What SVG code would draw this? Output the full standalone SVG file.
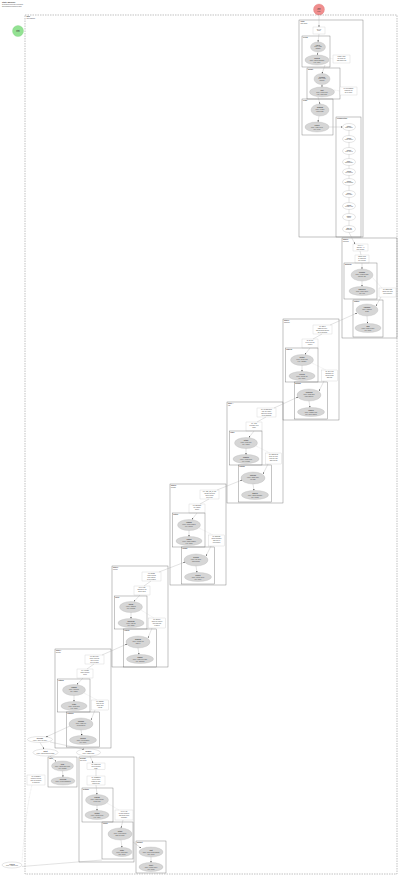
<svg xmlns="http://www.w3.org/2000/svg" width="400" height="877" viewBox="0 0 400 877">
<defs>
<style>
.t{font-family:"Liberation Sans",Arial,sans-serif;font-size:1.5px;fill:#444}
.b{font-weight:bold}
.m{text-anchor:middle}
.cb{fill:none;stroke:#6a6a6a;stroke-width:0.4}
.sb{fill:none;stroke:#666;stroke-width:0.38}
.ob{fill:none;stroke:#777;stroke-width:0.45;stroke-dasharray:1.5 1}
.n{fill:#fff;stroke:#c4c4c4;stroke-width:0.3}
.e{fill:#d6d6d6;stroke:#b0b0b0;stroke-width:0.3}
.w{fill:#fff;stroke:#aaa;stroke-width:0.3}
.c{fill:none;stroke:#a0a0a0;stroke-width:0.3}
.d{fill:none;stroke:#c0c0c0;stroke-width:0.3;stroke-dasharray:0.8 0.6}
</style>
<marker id="ah" viewBox="0 0 4 4" refX="4" refY="2" markerWidth="1.6" markerHeight="1.6" markerUnits="userSpaceOnUse" orient="auto"><path d="M0,0L4,2L0,4z" fill="#444"/></marker>
</defs>
<rect width="400" height="877" fill="#fff"/>

<g id="title">
<text class="t b" x="2" y="3" style="font-size:2px">State Machine</text>
<text class="t" x="2" y="5.2">generated overview of all states</text>
<text class="t" x="2" y="7">and transitions between them</text>
</g>

<g id="start"><circle cx="18" cy="31" r="5.5" fill="#93e293" stroke="#7c7" stroke-width="0.3"/><text class="t m b" x="18" y="30.5">start</text><text class="t m" x="18" y="32.3">initial</text></g>
<g id="final"><circle cx="319" cy="9.5" r="5.5" fill="#f08e8e" stroke="#d77" stroke-width="0.3"/><text class="t m b" x="319" y="8.5">final</text><text class="t m" x="319" y="10.3">done</text><text class="t m" x="319" y="12">state</text></g>

<g id="outer">
<rect class="ob" x="25" y="15" width="372" height="859"/>
<text class="t b" x="26.5" y="17">main</text>
<text class="t" x="26.5" y="18.8">root machine</text>
</g>

<!-- C1 -->
<g id="c1">
<rect class="cb" x="299" y="20" width="64" height="217"/>
<text class="t b" x="300.5" y="22">finish</text><text class="t" x="300.5" y="23.7">final stage</text>
<g id="c1-n0"><rect class="n" x="313" y="27" width="12" height="7"/><text class="t m" x="319" y="29.5">on exit</text><text class="t m" x="319" y="31.3">done</text></g>
<g id="c1-b1"><rect class="sb" x="302" y="36" width="28" height="31"/><text class="t b" x="303" y="37.8">review</text>
<g id="c1-b1e1"><ellipse class="e" cx="318" cy="47" rx="7.5" ry="5"/><text class="t m b" x="318" y="45.5">check</text><text class="t m" x="318" y="47.3">entry / load</text><text class="t m" x="318" y="49.1">validate</text></g>
<g id="c1-b1e2"><ellipse class="e" cx="317" cy="60" rx="12" ry="5"/><text class="t m b" x="317" y="59">confirm</text><text class="t m" x="317" y="60.8">entry / show summary</text><text class="t m" x="317" y="62.6">exit / save</text></g>
</g>
<g id="c1-nb"><rect class="n" x="333" y="55" width="17" height="8"/><text class="t m" x="341.5" y="57.3">guard: valid</text><text class="t m" x="341.5" y="59.1">all fields set</text><text class="t m" x="341.5" y="60.9">and approved</text></g>
<g id="c1-b2"><rect class="sb" x="307" y="68" width="33" height="31"/><text class="t b" x="308" y="69.8">submit</text>
<g id="c1-b2e1"><ellipse class="e" cx="322" cy="79" rx="8" ry="5.5"/><text class="t m b" x="322" y="77.5">sending</text><text class="t m" x="322" y="79.3">entry / post</text><text class="t m" x="322" y="81.1">request</text></g>
<g id="c1-b2e2"><ellipse class="e" cx="322" cy="92" rx="12.5" ry="5"/><text class="t m b" x="322" y="91">sent</text><text class="t m" x="322" y="92.8">entry / notify user</text><text class="t m" x="322" y="94.6">exit / clear form</text></g>
</g>
<g id="c1-nc"><rect class="n" x="340" y="87" width="17" height="8"/><text class="t m" x="348.5" y="89.3">on: SUCCESS</text><text class="t m" x="348.5" y="91.1">response ok</text><text class="t m" x="348.5" y="92.9">go to result</text></g>
<g id="c1-b3"><rect class="sb" x="302" y="99" width="31" height="36"/><text class="t b" x="303" y="100.8">result</text>
<g id="c1-b3e1"><ellipse class="e" cx="320" cy="110" rx="9" ry="6"/><text class="t m b" x="320" y="108.2">showing</text><text class="t m" x="320" y="110">entry / render</text><text class="t m" x="320" y="111.8">result page</text></g>
<g id="c1-b3e2"><ellipse class="e" cx="317" cy="127" rx="12" ry="5"/><text class="t m b" x="317" y="126">closed</text><text class="t m" x="317" y="127.8">entry / track event</text><text class="t m" x="317" y="129.6">exit / reset</text></g>
</g>
<g id="c1-b4"><rect class="sb" x="336" y="117" width="25" height="120"/><text class="t b" x="337" y="118.8">cleanup steps</text>
<g id="c1-s1"><ellipse class="w" cx="349" cy="127" rx="6.5" ry="3.5"/><text class="t m b" x="349" y="126.5">step 1</text><text class="t m" x="349" y="128.3">flush cache</text></g>
<g id="c1-s2"><ellipse class="w" cx="349" cy="139" rx="6.5" ry="3.5"/><text class="t m b" x="349" y="138.5">step 2</text><text class="t m" x="349" y="140.3">close socket</text></g>
<g id="c1-s3"><ellipse class="w" cx="349" cy="151" rx="6.5" ry="3.5"/><text class="t m b" x="349" y="150.5">step 3</text><text class="t m" x="349" y="152.3">stop timers</text></g>
<g id="c1-s4"><ellipse class="w" cx="349" cy="162" rx="6.5" ry="3.5"/><text class="t m b" x="349" y="161.5">step 4</text><text class="t m" x="349" y="163.3">unsubscribe</text></g>
<g id="c1-s5"><ellipse class="w" cx="349" cy="172" rx="6.5" ry="3.5"/><text class="t m b" x="349" y="171.5">step 5</text><text class="t m" x="349" y="173.3">free buffers</text></g>
<g id="c1-s6"><ellipse class="w" cx="349" cy="182" rx="6.5" ry="3.5"/><text class="t m b" x="349" y="181.5">step 6</text><text class="t m" x="349" y="183.3">log summary</text></g>
<g id="c1-s7"><ellipse class="w" cx="349" cy="194" rx="6.5" ry="3.5"/><text class="t m b" x="349" y="193.5">step 7</text><text class="t m" x="349" y="195.3">save state</text></g>
<g id="c1-s8"><ellipse class="w" cx="349" cy="206" rx="6.5" ry="3.5"/><text class="t m b" x="349" y="205.5">step 8</text><text class="t m" x="349" y="207.3">release lock</text></g>
<g id="c1-s9"><ellipse class="w" cx="349" cy="217" rx="6.5" ry="3.5"/><text class="t m b" x="349" y="216.5">step 9</text><text class="t m" x="349" y="218.3">report</text></g>
<g id="c1-s10"><ellipse class="w" cx="349" cy="229" rx="6.5" ry="3.5"/><text class="t m b" x="349" y="228.5">step 10</text><text class="t m" x="349" y="230.3">shutdown</text></g>
</g>
</g>

<!-- C2 -->
<g id="c2" transform="translate(342,238)">
<rect class="cb" x="0" y="0" width="55" height="100"/>
<text class="t b" x="1" y="2">stage 2</text><text class="t" x="1" y="3.7">payment</text>
<g id="c2-n1"><rect class="n" x="11" y="6" width="15" height="7"/><text class="t m" x="18.5" y="8.3">on: PAY</text><text class="t m" x="18.5" y="10.1">amount &gt; 0</text><text class="t m" x="18.5" y="11.9">then charge</text></g>
<g id="c2-n2"><rect class="n" x="13" y="17" width="14" height="8"/><text class="t m" x="20" y="19.3">guard: card</text><text class="t m" x="20" y="21.1">is valid and</text><text class="t m" x="20" y="22.9">not expired</text></g>
<g id="c2-s1"><rect class="sb" x="2" y="25" width="33" height="36"/><text class="t b" x="3" y="26.8">authorize</text>
<g id="c2-e1"><ellipse class="e" cx="20" cy="37" rx="11" ry="6"/><text class="t m b" x="20" y="35.2">pending</text><text class="t m" x="20" y="37">entry / request auth</text><text class="t m" x="20" y="38.8">timeout 30s</text></g>
<g id="c2-e2"><ellipse class="e" cx="20" cy="53" rx="13" ry="4.5"/><text class="t m b" x="20" y="52">approved</text><text class="t m" x="20" y="53.8">entry / store token</text><text class="t m" x="20" y="55.6">exit / log</text></g>
</g>
<g id="c2-n3"><rect class="n" x="37" y="50" width="17" height="9"/><text class="t m" x="45.5" y="52.3">on: DECLINE</text><text class="t m" x="45.5" y="54.1">show error and</text><text class="t m" x="45.5" y="55.9">retry payment</text></g>
<g id="c2-s2"><rect class="sb" x="11" y="62" width="30" height="37"/><text class="t b" x="12" y="63.8">capture</text>
<g id="c2-e3"><ellipse class="e" cx="25" cy="72" rx="11" ry="6"/><text class="t m b" x="25" y="70.2">charging</text><text class="t m" x="25" y="72">entry / capture</text><text class="t m" x="25" y="73.8">funds</text></g>
<g id="c2-e4"><ellipse class="e" cx="26" cy="90" rx="13" ry="4.5"/><text class="t m b" x="26" y="89">paid</text><text class="t m" x="26" y="90.8">entry / send receipt</text><text class="t m" x="26" y="92.6">exit / done</text></g>
</g>
</g>

<g id="c3" transform="translate(283,319)">
<rect class="cb" x="0" y="0" width="56" height="101"/>
<text class="t b" x="1" y="2">stage 3</text><text class="t" x="1" y="3.7">shipping</text>
<g id="c3-n1"><rect class="n" x="30" y="6" width="19" height="9"/><text class="t m" x="39.5" y="8.3">on: NEXT</text><text class="t m" x="39.5" y="10.1">address is set</text><text class="t m" x="39.5" y="11.9">and method chosen</text><text class="t m" x="39.5" y="13.7">go to payment</text></g>
<g id="c3-n2"><rect class="n" x="19" y="20" width="16" height="9"/><text class="t m" x="27" y="22.3">on: BACK</text><text class="t m" x="27" y="24.1">keep entered</text><text class="t m" x="27" y="25.9">values</text></g>
<g id="c3-s1"><rect class="sb" x="2.5" y="29" width="32.5" height="34"/><text class="t b" x="3.3" y="30.8">address</text>
<g id="c3-e1"><ellipse class="e" cx="19" cy="41" rx="11.5" ry="5.5"/><text class="t m b" x="19" y="39.2">editing</text><text class="t m" x="19" y="41">entry / focus field</text><text class="t m" x="19" y="42.8">exit / validate</text></g>
<g id="c3-e2"><ellipse class="e" cx="19" cy="57" rx="13" ry="4.5"/><text class="t m b" x="19" y="56">verified</text><text class="t m" x="19" y="57.8">entry / lookup zip</text><text class="t m" x="19" y="59.6">exit / store</text></g>
</g>
<g id="c3-n3"><rect class="n" x="38.5" y="51" width="16" height="11"/><text class="t m" x="46.5" y="53.3">on: INVALID</text><text class="t m" x="46.5" y="55.1">highlight the</text><text class="t m" x="46.5" y="56.9">wrong fields</text><text class="t m" x="46.5" y="58.7">and stay</text></g>
<g id="c3-s2"><rect class="sb" x="11.5" y="63" width="33" height="37"/><text class="t b" x="12.3" y="64.8">method</text>
<g id="c3-e3"><ellipse class="e" cx="26" cy="76" rx="12" ry="6"/><text class="t m b" x="26" y="74.2">choosing</text><text class="t m" x="26" y="76">entry / load rates</text><text class="t m" x="26" y="77.8">from carriers</text></g>
<g id="c3-e4"><ellipse class="e" cx="28" cy="93" rx="13.5" ry="4.5"/><text class="t m b" x="28" y="92">chosen</text><text class="t m" x="28" y="93.8">entry / update total</text><text class="t m" x="28" y="95.6">exit / save choice</text></g>
</g>
</g>

<g id="c4" transform="translate(227,402)">
<rect class="cb" x="0" y="0" width="56" height="101"/>
<text class="t b" x="1" y="2">stage 4</text><text class="t" x="1" y="3.7">cart</text>
<g id="c4-n1"><rect class="n" x="30" y="6" width="19" height="9"/><text class="t m" x="39.5" y="8.3">on: CHECKOUT</text><text class="t m" x="39.5" y="10.1">cart not empty</text><text class="t m" x="39.5" y="11.9">and user known</text><text class="t m" x="39.5" y="13.7">go to shipping</text></g>
<g id="c4-n2"><rect class="n" x="19" y="20" width="16" height="9"/><text class="t m" x="27" y="22.3">on: ADD</text><text class="t m" x="27" y="24.1">increase item</text><text class="t m" x="27" y="25.9">count</text></g>
<g id="c4-s1"><rect class="sb" x="2.5" y="29" width="32.5" height="34"/><text class="t b" x="3.3" y="30.8">items</text>
<g id="c4-e1"><ellipse class="e" cx="19" cy="41" rx="11.5" ry="5.5"/><text class="t m b" x="19" y="39.2">listing</text><text class="t m" x="19" y="41">entry / fetch cart</text><text class="t m" x="19" y="42.8">exit / cache</text></g>
<g id="c4-e2"><ellipse class="e" cx="19" cy="57" rx="13" ry="4.5"/><text class="t m b" x="19" y="56">updated</text><text class="t m" x="19" y="57.8">entry / recalc sum</text><text class="t m" x="19" y="59.6">exit / persist</text></g>
</g>
<g id="c4-n3"><rect class="n" x="38.5" y="51" width="16" height="11"/><text class="t m" x="46.5" y="53.3">on: REMOVE</text><text class="t m" x="46.5" y="55.1">drop the item</text><text class="t m" x="46.5" y="56.9">from the cart</text><text class="t m" x="46.5" y="58.7">and refresh</text></g>
<g id="c4-s2"><rect class="sb" x="11.5" y="63" width="33" height="37"/><text class="t b" x="12.3" y="64.8">coupon</text>
<g id="c4-e3"><ellipse class="e" cx="26" cy="76" rx="12" ry="6"/><text class="t m b" x="26" y="74.2">entering</text><text class="t m" x="26" y="76">entry / show input</text><text class="t m" x="26" y="77.8">for code</text></g>
<g id="c4-e4"><ellipse class="e" cx="28" cy="93" rx="13.5" ry="4.5"/><text class="t m b" x="28" y="92">applied</text><text class="t m" x="28" y="93.8">entry / apply discount</text><text class="t m" x="28" y="95.6">exit / recalc</text></g>
</g>
</g>

<g id="c5" transform="translate(170,484)">
<rect class="cb" x="0" y="0" width="56" height="101"/>
<text class="t b" x="1" y="2">stage 5</text><text class="t" x="1" y="3.7">product</text>
<g id="c5-n1"><rect class="n" x="30" y="6" width="19" height="9"/><text class="t m" x="39.5" y="8.3">on: ADD_TO_CART</text><text class="t m" x="39.5" y="10.1">variant selected</text><text class="t m" x="39.5" y="11.9">and in stock</text><text class="t m" x="39.5" y="13.7">go to cart</text></g>
<g id="c5-n2"><rect class="n" x="19" y="20" width="16" height="9"/><text class="t m" x="27" y="22.3">on: SELECT</text><text class="t m" x="27" y="24.1">set variant</text><text class="t m" x="27" y="25.9">option</text></g>
<g id="c5-s1"><rect class="sb" x="2.5" y="29" width="32.5" height="34"/><text class="t b" x="3.3" y="30.8">details</text>
<g id="c5-e1"><ellipse class="e" cx="19" cy="41" rx="11.5" ry="5.5"/><text class="t m b" x="19" y="39.2">loading</text><text class="t m" x="19" y="41">entry / fetch product</text><text class="t m" x="19" y="42.8">exit / cancel</text></g>
<g id="c5-e2"><ellipse class="e" cx="19" cy="57" rx="13" ry="4.5"/><text class="t m b" x="19" y="56">loaded</text><text class="t m" x="19" y="57.8">entry / show images</text><text class="t m" x="19" y="59.6">exit / track</text></g>
</g>
<g id="c5-n3"><rect class="n" x="38.5" y="51" width="16" height="11"/><text class="t m" x="46.5" y="53.3">on: ERROR</text><text class="t m" x="46.5" y="55.1">show message</text><text class="t m" x="46.5" y="56.9">and offer a</text><text class="t m" x="46.5" y="58.7">retry button</text></g>
<g id="c5-s2"><rect class="sb" x="11.5" y="63" width="33" height="37"/><text class="t b" x="12.3" y="64.8">variant</text>
<g id="c5-e3"><ellipse class="e" cx="26" cy="76" rx="12" ry="6"/><text class="t m b" x="26" y="74.2">picking</text><text class="t m" x="26" y="76">entry / list sizes</text><text class="t m" x="26" y="77.8">and colours</text></g>
<g id="c5-e4"><ellipse class="e" cx="28" cy="93" rx="13.5" ry="4.5"/><text class="t m b" x="28" y="92">picked</text><text class="t m" x="28" y="93.8">entry / check stock</text><text class="t m" x="28" y="95.6">exit / store</text></g>
</g>
</g>

<g id="c6" transform="translate(112,566)">
<rect class="cb" x="0" y="0" width="56" height="101"/>
<text class="t b" x="1" y="2">stage 6</text><text class="t" x="1" y="3.7">search</text>
<g id="c6-n1"><rect class="n" x="30" y="6" width="19" height="9"/><text class="t m" x="39.5" y="8.3">on: OPEN</text><text class="t m" x="39.5" y="10.1">result clicked</text><text class="t m" x="39.5" y="11.9">with valid id</text><text class="t m" x="39.5" y="13.7">go to product</text></g>
<g id="c6-n2"><rect class="n" x="22" y="20" width="16" height="9"/><text class="t m" x="30" y="22.3">on: TYPE</text><text class="t m" x="30" y="24.1">debounce the</text><text class="t m" x="30" y="25.9">query input</text></g>
<g id="c6-s1"><rect class="sb" x="2.5" y="30" width="32.5" height="33"/><text class="t b" x="3.3" y="31.8">query</text>
<g id="c6-e1"><ellipse class="e" cx="19" cy="41" rx="11.5" ry="5.5"/><text class="t m b" x="19" y="39.2">typing</text><text class="t m" x="19" y="41">entry / suggest</text><text class="t m" x="19" y="42.8">exit / commit</text></g>
<g id="c6-e2"><ellipse class="e" cx="19" cy="57" rx="13" ry="4.5"/><text class="t m b" x="19" y="56">searching</text><text class="t m" x="19" y="57.8">entry / call api</text><text class="t m" x="19" y="59.6">exit / abort</text></g>
</g>
<g id="c6-n3"><rect class="n" x="36.5" y="52" width="17" height="10"/><text class="t m" x="45" y="54.3">on: EMPTY</text><text class="t m" x="45" y="56.1">show no results</text><text class="t m" x="45" y="57.9">hint and stay</text><text class="t m" x="45" y="59.7">in query</text></g>
<g id="c6-s2"><rect class="sb" x="11.5" y="63" width="33" height="38"/><text class="t b" x="12.3" y="64.8">results</text>
<g id="c6-e3"><ellipse class="e" cx="26" cy="76" rx="12" ry="6"/><text class="t m b" x="26" y="74.2">showing</text><text class="t m" x="26" y="76">entry / render list</text><text class="t m" x="26" y="77.8">page 1</text></g>
<g id="c6-e4"><ellipse class="e" cx="28" cy="93" rx="13.5" ry="4.5"/><text class="t m b" x="28" y="92">paging</text><text class="t m" x="28" y="93.8">entry / load next page</text><text class="t m" x="28" y="95.6">exit / append</text></g>
</g>
</g>

<g id="c7" transform="translate(55,649)">
<rect class="cb" x="0" y="0" width="56" height="99"/>
<text class="t b" x="1" y="2">stage 7</text><text class="t" x="1" y="3.7">browse</text>
<g id="c7-n1"><rect class="n" x="30" y="6" width="19" height="9"/><text class="t m" x="39.5" y="8.3">on: SEARCH</text><text class="t m" x="39.5" y="10.1">query entered</text><text class="t m" x="39.5" y="11.9">min 3 letters</text><text class="t m" x="39.5" y="13.7">go to search</text></g>
<g id="c7-n2"><rect class="n" x="22" y="20" width="16" height="9"/><text class="t m" x="30" y="22.3">on: FILTER</text><text class="t m" x="30" y="24.1">apply chosen</text><text class="t m" x="30" y="25.9">filters</text></g>
<g id="c7-s1"><rect class="sb" x="2.5" y="30" width="32.5" height="33"/><text class="t b" x="3.3" y="31.8">catalog</text>
<g id="c7-e1"><ellipse class="e" cx="19" cy="41" rx="11.5" ry="5.5"/><text class="t m b" x="19" y="39.2">loading</text><text class="t m" x="19" y="41">entry / fetch list</text><text class="t m" x="19" y="42.8">exit / cache</text></g>
<g id="c7-e2"><ellipse class="e" cx="19" cy="57" rx="13" ry="4.5"/><text class="t m b" x="19" y="56">ready</text><text class="t m" x="19" y="57.8">entry / show grid</text><text class="t m" x="19" y="59.6">exit / track</text></g>
</g>
<g id="c7-n3"><rect class="n" x="36.5" y="51" width="17" height="10"/><text class="t m" x="45" y="53.3">on: RESET</text><text class="t m" x="45" y="55.1">clear all the</text><text class="t m" x="45" y="56.9">filters and</text><text class="t m" x="45" y="58.7">reload</text></g>
<g id="c7-s2"><rect class="sb" x="11.5" y="63" width="33" height="35"/><text class="t b" x="12.3" y="64.8">category</text>
<g id="c7-e3"><ellipse class="e" cx="26" cy="75" rx="12" ry="6"/><text class="t m b" x="26" y="73.2">opening</text><text class="t m" x="26" y="75">entry / load tree</text><text class="t m" x="26" y="76.8">of categories</text></g>
<g id="c7-e4"><ellipse class="e" cx="28" cy="91" rx="13.5" ry="4.5"/><text class="t m b" x="28" y="90">opened</text><text class="t m" x="28" y="91.8">entry / list products</text><text class="t m" x="28" y="93.6">exit / store</text></g>
</g>
</g>

<g id="w1"><ellipse class="w" cx="40" cy="739.5" rx="12.5" ry="3"/><text class="t m b" x="40" y="739">welcome</text><text class="t m" x="40" y="740.8">entry / greet the user</text></g>
<g id="w2"><ellipse class="w" cx="45.5" cy="752.5" rx="12.5" ry="3.5"/><text class="t m b" x="45.5" y="752">guest</text><text class="t m" x="45.5" y="753.8">entry / anonymous session</text></g>
<g id="w3"><ellipse class="w" cx="88.5" cy="752.5" rx="12" ry="3.5"/><text class="t m b" x="88.5" y="752">member</text><text class="t m" x="88.5" y="753.8">entry / load profile</text></g>
<g id="nl"><rect class="n" x="27" y="775" width="18" height="10"/><text class="t m" x="36" y="777.3">on: TIMEOUT</text><text class="t m" x="36" y="779.1">session expired</text><text class="t m" x="36" y="780.9">after 30 minutes</text><text class="t m" x="36" y="782.7">of inactivity</text></g>
<g id="bl"><ellipse class="w" cx="12" cy="865" rx="10" ry="3"/><text class="t m b" x="12" y="864.5">expired</text><text class="t m" x="12" y="866.3">entry / logout user</text></g>

<g id="p">
<rect class="sb" x="48" y="757" width="29" height="30"/><text class="t b" x="49" y="758.8">login</text>
<g id="p-e1"><ellipse class="e" cx="62.5" cy="766" rx="11" ry="5"/><text class="t m b" x="62.5" y="765">form</text><text class="t m" x="62.5" y="766.8">entry / show login form</text><text class="t m" x="62.5" y="768.6">exit / submit</text></g>
<g id="p-e2"><ellipse class="e" cx="63" cy="781" rx="12" ry="4"/><text class="t m b" x="63" y="780.3">checking</text><text class="t m" x="63" y="782.1">entry / verify password</text></g>
</g>

<g id="c8" transform="translate(79,757)">
<rect class="cb" x="0" y="0" width="55" height="105"/>
<text class="t b" x="1" y="2">account</text><text class="t" x="1" y="3.7">user area</text>
<g id="c8-n1"><rect class="n" x="8" y="6" width="18" height="6.5"/><text class="t m" x="17" y="8.3">on: PROFILE</text><text class="t m" x="17" y="10.1">open settings</text><text class="t m" x="17" y="11.9">page</text></g>
<g id="c8-n2"><rect class="n" x="8" y="19" width="18" height="9"/><text class="t m" x="17" y="21.3">on: ORDERS</text><text class="t m" x="17" y="23.1">list previous</text><text class="t m" x="17" y="24.9">orders of user</text><text class="t m" x="17" y="26.7">newest first</text></g>
<g id="c8-s1"><rect class="sb" x="3" y="31" width="31" height="34"/><text class="t b" x="4" y="32.8">settings</text>
<g id="c8-e1"><ellipse class="e" cx="18" cy="43" rx="11.5" ry="5.5"/><text class="t m b" x="18" y="41.2">viewing</text><text class="t m" x="18" y="43">entry / load settings</text><text class="t m" x="18" y="44.8">of the user</text></g>
<g id="c8-e2"><ellipse class="e" cx="18" cy="58" rx="12" ry="4.5"/><text class="t m b" x="18" y="57">editing</text><text class="t m" x="18" y="58.8">entry / unlock form</text><text class="t m" x="18" y="60.6">exit / save</text></g>
</g>
<g id="c8-n3"><rect class="n" x="36" y="53" width="18" height="10"/><text class="t m" x="45" y="55.3">on: SAVE</text><text class="t m" x="45" y="57.1">persist changes</text><text class="t m" x="45" y="58.9">and show toast</text><text class="t m" x="45" y="60.7">message</text></g>
<g id="c8-s2"><rect class="sb" x="23" y="65" width="31" height="37"/><text class="t b" x="24" y="66.8">orders</text>
<g id="c8-e3"><ellipse class="e" cx="41" cy="77" rx="12" ry="6"/><text class="t m b" x="41" y="75.2">listing</text><text class="t m" x="41" y="77">entry / fetch orders</text><text class="t m" x="41" y="78.8">page by page</text></g>
<g id="c8-e4"><ellipse class="e" cx="43" cy="95" rx="10" ry="4.5"/><text class="t m b" x="43" y="94">detail</text><text class="t m" x="43" y="95.8">entry / load order</text><text class="t m" x="43" y="97.6">exit / close</text></g>
</g>
</g>

<g id="q">
<rect class="sb" x="136" y="841" width="30" height="32"/><text class="t b" x="137" y="842.8">support</text>
<g id="q-e1"><ellipse class="e" cx="151" cy="852" rx="12" ry="5"/><text class="t m b" x="151" y="851">chat</text><text class="t m" x="151" y="852.8">entry / open chat window</text><text class="t m" x="151" y="854.6">exit / close</text></g>
<g id="q-e2"><ellipse class="e" cx="151" cy="867" rx="12" ry="4.5"/><text class="t m b" x="151" y="866">ticket</text><text class="t m" x="151" y="867.8">entry / create ticket</text><text class="t m" x="151" y="869.6">exit / notify</text></g>
</g>

<g id="connectors">
<line class="c" x1="319" y1="15" x2="319" y2="27" marker-end="url(#ah)"/>
<line class="c" x1="319" y1="34" x2="318" y2="42" marker-end="url(#ah)"/>
<line class="c" x1="318" y1="52" x2="317.5" y2="55" marker-end="url(#ah)"/>
<line class="d" x1="329" y1="58" x2="333" y2="59"/>
<line class="c" x1="325" y1="65" x2="322" y2="73.5" marker-end="url(#ah)"/>
<line class="c" x1="322" y1="84.5" x2="322" y2="87" marker-end="url(#ah)"/>
<line class="d" x1="334" y1="90" x2="340" y2="91"/>
<line class="c" x1="318" y1="97" x2="320" y2="104" marker-end="url(#ah)"/>
<line class="c" x1="319" y1="116" x2="318" y2="122" marker-end="url(#ah)"/>
<line class="c" x1="329" y1="127" x2="342.5" y2="127" marker-end="url(#ah)"/>
<path class="c" d="M349,130.5V135.5M349,142.5V147.5M349,154.5V158.5M349,165.5V168.5M349,175.5V178.5M349,185.5V190.5M349,197.5V202.5M349,209.5V213.5M349,220.5V225.5"/>
<line class="c" x1="349" y1="232.5" x2="355" y2="244" marker-end="url(#ah)"/>
<line class="c" x1="360" y1="251" x2="361" y2="255"/>
<line class="c" x1="362" y1="263" x2="362" y2="269" marker-end="url(#ah)"/>
<line class="c" x1="362" y1="281" x2="362" y2="286.5" marker-end="url(#ah)"/>
<line class="d" x1="372" y1="277" x2="382" y2="288"/>
<line class="c" x1="381" y1="297" x2="376" y2="306" marker-end="url(#ah)"/>
<line class="c" x1="367" y1="316" x2="367.5" y2="323.5" marker-end="url(#ah)"/>
<line class="c" x1="330" y1="325" x2="357" y2="313" marker-end="url(#ah)"/>
<line class="c" x1="274" y1="408" x2="298" y2="397" marker-end="url(#ah)"/>
<line class="c" x1="217" y1="490" x2="242" y2="480" marker-end="url(#ah)"/>
<line class="c" x1="159" y1="572" x2="185" y2="562" marker-end="url(#ah)"/>
<line class="c" x1="102" y1="655" x2="127" y2="644" marker-end="url(#ah)"/>
<g transform="translate(283,319)"><line class="c" x1="39" y1="15" x2="30" y2="20"/><line class="c" x1="27" y1="29" x2="22" y2="35.5" marker-end="url(#ah)"/><line class="c" x1="19" y1="46.5" x2="19" y2="52.5" marker-end="url(#ah)"/><line class="d" x1="29" y1="44" x2="43" y2="51"/><line class="c" x1="41" y1="62" x2="36" y2="72" marker-end="url(#ah)"/><line class="c" x1="26" y1="82" x2="27" y2="88.5" marker-end="url(#ah)"/></g>
<g transform="translate(227,402)"><line class="c" x1="39" y1="15" x2="30" y2="20"/><line class="c" x1="27" y1="29" x2="22" y2="35.5" marker-end="url(#ah)"/><line class="c" x1="19" y1="46.5" x2="19" y2="52.5" marker-end="url(#ah)"/><line class="d" x1="29" y1="44" x2="43" y2="51"/><line class="c" x1="41" y1="62" x2="36" y2="72" marker-end="url(#ah)"/><line class="c" x1="26" y1="82" x2="27" y2="88.5" marker-end="url(#ah)"/></g>
<g transform="translate(170,484)"><line class="c" x1="39" y1="15" x2="30" y2="20"/><line class="c" x1="27" y1="29" x2="22" y2="35.5" marker-end="url(#ah)"/><line class="c" x1="19" y1="46.5" x2="19" y2="52.5" marker-end="url(#ah)"/><line class="d" x1="29" y1="44" x2="43" y2="51"/><line class="c" x1="41" y1="62" x2="36" y2="72" marker-end="url(#ah)"/><line class="c" x1="26" y1="82" x2="27" y2="88.5" marker-end="url(#ah)"/></g>
<g transform="translate(112,566)"><line class="c" x1="39" y1="15" x2="32" y2="20"/><line class="c" x1="28" y1="29" x2="22" y2="35.5" marker-end="url(#ah)"/><line class="c" x1="19" y1="46.5" x2="19" y2="52.5" marker-end="url(#ah)"/><line class="d" x1="29" y1="44" x2="42" y2="52"/><line class="c" x1="40" y1="62" x2="36" y2="72" marker-end="url(#ah)"/><line class="c" x1="26" y1="82" x2="27" y2="88.5" marker-end="url(#ah)"/></g>
<g transform="translate(55,649)"><line class="c" x1="39" y1="15" x2="32" y2="20"/><line class="c" x1="28" y1="29" x2="22" y2="35.5" marker-end="url(#ah)"/><line class="c" x1="19" y1="46.5" x2="19" y2="52.5" marker-end="url(#ah)"/><line class="d" x1="29" y1="44" x2="42" y2="51"/><line class="c" x1="40" y1="61" x2="36" y2="71" marker-end="url(#ah)"/><line class="c" x1="26" y1="81" x2="27" y2="86.5" marker-end="url(#ah)"/></g>
<line class="c" x1="70" y1="726" x2="46" y2="737" marker-end="url(#ah)"/>
<line class="c" x1="40" y1="742.5" x2="44" y2="749" marker-end="url(#ah)"/>
<line class="c" x1="50" y1="742" x2="84" y2="749.2" marker-end="url(#ah)"/>
<line class="c" x1="50" y1="756" x2="56" y2="761.5" marker-end="url(#ah)"/>
<line class="c" x1="90" y1="756" x2="93" y2="763" marker-end="url(#ah)"/>
<line class="c" x1="62.5" y1="771" x2="63" y2="777" marker-end="url(#ah)"/>
<g transform="translate(79,757)"><line class="c" x1="17" y1="12.5" x2="17" y2="19"/><line class="c" x1="17" y1="28" x2="18" y2="37.5" marker-end="url(#ah)"/><line class="c" x1="18" y1="48.5" x2="18" y2="53.5" marker-end="url(#ah)"/><line class="d" x1="28" y1="46" x2="40" y2="53"/><line class="c" x1="44" y1="63" x2="42" y2="71" marker-end="url(#ah)"/><line class="c" x1="42" y1="83" x2="43" y2="90.5" marker-end="url(#ah)"/></g>
<line class="c" x1="133" y1="842" x2="141" y2="848" marker-end="url(#ah)"/>
<line class="c" x1="151" y1="857" x2="151" y2="862.5" marker-end="url(#ah)"/>
<path class="d" d="M32,785 C27,805 24,835 22,862"/>
<line class="c" x1="22" y1="866.5" x2="102" y2="860"/>
</g>
</svg>
